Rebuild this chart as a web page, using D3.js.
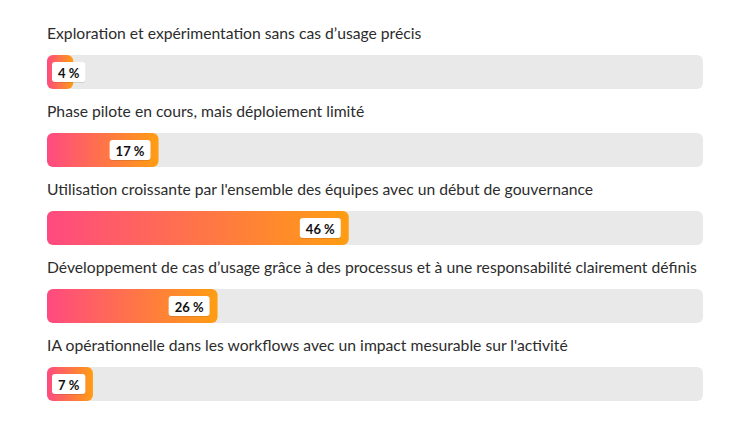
<!DOCTYPE html>
<html><head><meta charset="utf-8">
<script src="https://cdn.jsdelivr.net/npm/d3@7"></script>
<style>
html,body{margin:0;padding:0;background:#fff;}
svg{display:block;}
</style></head>
<body>
<svg id="chart" width="750" height="422"></svg>
<script>
const categories = [
  "Exploration et expérimentation sans cas d’usage précis",
  "Phase pilote en cours, mais déploiement limité",
  "Utilisation croissante par l'ensemble des équipes avec un début de gouvernance",
  "Développement de cas d’usage grâce à des processus et à une responsabilité clairement définis",
  "IA opérationnelle dans les workflows avec un impact mesurable sur l'activité"
];
const values = [4, 17, 46, 26, 7];
const valueLabels = ["4 %", "17 %", "46 %", "26 %", "7 %"];

const svg = d3.select("#chart");
const x = d3.scaleLinear().domain([0, 100]).range([47, 703]);
const y = d3.scaleBand().domain(categories).range([0, 390]);
const barTop = 55, barH = 34;

const defs = svg.append("defs");
categories.forEach((c, i) => {
  const g = defs.append("linearGradient").attr("id", "grad" + i)
    .attr("x1", "0%").attr("x2", "100%").attr("y1", "0%").attr("y2", "0%");
  g.append("stop").attr("offset", "0%").attr("stop-color", "#ff4a80");
  g.append("stop").attr("offset", "100%").attr("stop-color", "#ff9d12");
});
const f = defs.append("filter").attr("id", "sh").attr("x", "-20%").attr("y", "-30%").attr("width", "140%").attr("height", "160%");
f.append("feDropShadow").attr("dx", 0).attr("dy", 0.5).attr("stdDeviation", 0.7).attr("flood-color", "#000").attr("flood-opacity", 0.2);

const rows = svg.selectAll("g.row").data(categories).join("g").attr("class", "row")
  .attr("transform", d => `translate(0,${y(d)})`);

rows.append("text")
  .attr("x", x(0)).attr("y", barTop - 16)
  .attr("font-family", "Lato, 'Open Sans', sans-serif")
  .attr("font-size", 15.7)
  .attr("fill", "#2c2c2c")
  .text(d => d);

rows.append("rect")
  .attr("x", x(0)).attr("y", barTop).attr("width", x(100) - x(0)).attr("height", barH)
  .attr("rx", 6).attr("fill", "#e9e9e9");

rows.append("rect")
  .attr("x", x(0)).attr("y", barTop)
  .attr("width", (d, i) => x(values[i]) - x(0)).attr("height", barH)
  .attr("rx", 6).attr("fill", (d, i) => `url(#grad${i})`);

rows.each(function(d, i) {
  const g = d3.select(this);
  const t = g.append("text")
    .attr("font-family", "Lato, 'Open Sans', sans-serif")
    .attr("font-weight", 700).attr("font-size", 13)
    .attr("fill", "#111")
    .attr("dominant-baseline", "central")
    .text(valueLabels[i]);
  const tw = t.node().getComputedTextLength();
  const bw = tw + 12, bh = 20;
  let right = x(values[i]) - 8;
  let left = Math.max(right - bw, x(0) + 5);
  const cy = barTop + barH / 2;
  g.insert("rect", "text:last-child")
    .attr("x", left).attr("y", cy - bh / 2).attr("width", bw).attr("height", bh)
    .attr("rx", 3).attr("fill", "#fff").attr("filter", "url(#sh)");
  t.attr("x", left + bw / 2).attr("y", cy + 0.5).attr("text-anchor", "middle");
  t.raise();
});
</script>
</body></html>
